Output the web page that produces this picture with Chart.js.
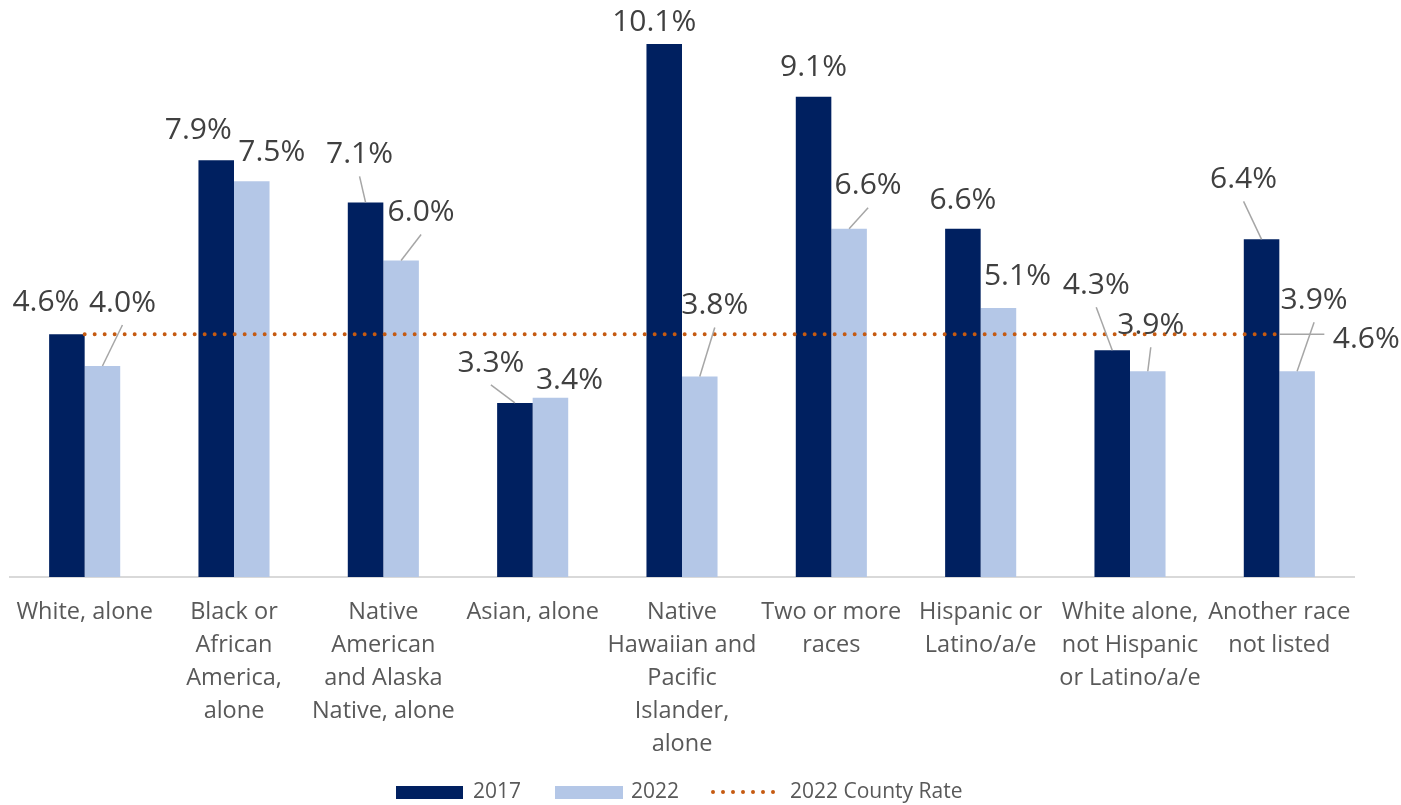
<!DOCTYPE html>
<html>
<head>
<meta charset="utf-8">
<script src="https://cdn.jsdelivr.net/npm/chart.js@4.4.1/dist/chart.umd.min.js"></script>
<style>
  html, body { margin: 0; padding: 0; background: #fff; }
  #wrap { width: 1401px; height: 805px; }
</style>
</head>
<body>
<div id="wrap"><canvas id="rateChart"></canvas></div>
<script>
const categories = [
    ['White, alone'],
    ['Black or', 'African', 'America,', 'alone'],
    ['Native', 'American', 'and Alaska', 'Native, alone'],
    ['Asian, alone'],
    ['Native', 'Hawaiian and', 'Pacific', 'Islander,', 'alone'],
    ['Two or more', 'races'],
    ['Hispanic or', 'Latino/a/e'],
    ['White alone,', 'not Hispanic', 'or Latino/a/e'],
    ['Another race', 'not listed']
];
const values2017 = [4.6, 7.9, 7.1, 3.3, 10.1, 9.1, 6.6, 4.3, 6.4];
const values2022 = [4.0, 7.5, 6.0, 3.4, 3.8, 6.6, 5.1, 3.9, 3.9];
const countyRate2022 = 4.6;

// where Excel's labels were dragged to: [dx, dy, leader] from the bar's top centre
const offsets2017 = [[-21, -34, 0], [-18, -32, 0], [-6, -50, 1], [-24, -42, 1], [-10, -24, 0],
                     [0, -32, 0], [0, -30, 0], [-16, -67, 1], [-18, -62, 1]];
const offsets2022 = [[20, -65, 1], [20, -31, 0], [20, -50, 1], [19, -19, 0], [15, -73, 1],
                     [19, -45, 1], [19, -34, 0], [3, -48, 1], [17, -73, 1]];

const DARK = '#002060';
const LIGHT = '#B4C7E7';
const ORANGE = '#C55A11';
const FONT = '"Open Sans", "Noto Sans", sans-serif';

const labelPlugin = {
    id: 'barLabels',
    afterDatasetsDraw(chart) {
        const ctx = chart.ctx;
        ctx.save();
        ctx.font = '30px ' + FONT;
        ctx.textAlign = 'center';
        ctx.textBaseline = 'alphabetic';
        ctx.strokeStyle = '#A6A6A6';
        ctx.lineWidth = 1.5;
        const sets = [[0, values2017, offsets2017], [1, values2022, offsets2022]];
        sets.forEach(function(s) {
            const meta = chart.getDatasetMeta(s[0]);
            meta.data.forEach(function(bar, i) {
                const off = s[2][i];
                const cx = bar.x + off[0];
                const cy = bar.y + off[1];
                if (off[2]) {
                    ctx.beginPath();
                    ctx.moveTo(cx, cy + 24);
                    ctx.lineTo(bar.x, bar.y);
                    ctx.stroke();
                }
                ctx.fillStyle = '#404040';
                ctx.fillText(s[1][i].toFixed(1) + '%', cx, cy + 10.7);
            });
        });
        // county rate label at the end of the dotted line
        const lineMeta = chart.getDatasetMeta(2);
        const last = lineMeta.data[lineMeta.data.length - 1];
        ctx.beginPath();
        ctx.moveTo(last.x, last.y);
        ctx.lineTo(last.x + 45, last.y);
        ctx.stroke();
        ctx.fillStyle = '#404040';
        ctx.fillText(countyRate2022.toFixed(1) + '%', last.x + 87, last.y + 3 + 10.7);
        ctx.restore();
    }
};

const legendPlugin = {
    id: 'bottomLegend',
    afterDraw(chart) {
        const ctx = chart.ctx;
        const y = 792;
        ctx.save();
        ctx.font = '21px ' + FONT;
        ctx.textAlign = 'left';
        ctx.textBaseline = 'middle';
        ctx.fillStyle = DARK;
        ctx.fillRect(396, 786, 67, 13);
        ctx.fillStyle = LIGHT;
        ctx.fillRect(555, 786, 68, 13);
        ctx.strokeStyle = ORANGE;
        ctx.lineWidth = 4;
        ctx.lineCap = 'round';
        ctx.setLineDash([0, 10]);
        ctx.beginPath();
        ctx.moveTo(713, y);
        ctx.lineTo(774, y);
        ctx.stroke();
        ctx.setLineDash([]);
        ctx.fillStyle = '#595959';
        ctx.fillText('2017', 473, y);
        ctx.fillText('2022', 631, y);
        ctx.fillText('2022 County Rate', 790, y);
        ctx.restore();
    }
};

const ctx1 = document.getElementById('rateChart').getContext('2d');
const rateChart = new Chart(ctx1, {
    type: 'bar',
    data: {
        labels: categories,
        datasets: [{
            label: '2017',
            data: values2017,
            backgroundColor: DARK,
            categoryPercentage: 0.476,
            barPercentage: 1,
            order: 1
        }, {
            label: '2022',
            data: values2022,
            backgroundColor: LIGHT,
            categoryPercentage: 0.476,
            barPercentage: 1,
            order: 1
        }, {
            type: 'line',
            label: '2022 County Rate',
            data: categories.map(function() { return countyRate2022; }),
            borderColor: ORANGE,
            borderWidth: 4,
            borderDash: [0, 10],
            borderCapStyle: 'round',
            pointRadius: 0,
            fill: false,
            order: 0
        }]
    },
    options: {
        responsive: true,
        maintainAspectRatio: false,
        animation: false,
        layout: {
            padding: { top: 23, left: 10, right: 47, bottom: 25 }
        },
        plugins: {
            legend: { display: false },
            tooltip: { enabled: false }
        },
        scales: {
            x: {
                grid: { display: false, drawTicks: false },
                border: { display: true, color: '#D9D9D9', width: 2 },
                afterFit: function(scale) {
                    scale.paddingLeft = 0;
                    scale.paddingRight = 0;
                },
                ticks: {
                    color: '#595959',
                    padding: 19,
                    maxRotation: 0,
                    autoSkip: false,
                    font: { family: FONT, size: 23.5, lineHeight: 1.404 }
                }
            },
            y: {
                display: false,
                min: 0,
                max: 10.5
            }
        }
    },
    plugins: [labelPlugin, legendPlugin]
});
</script>
</body>
</html>
